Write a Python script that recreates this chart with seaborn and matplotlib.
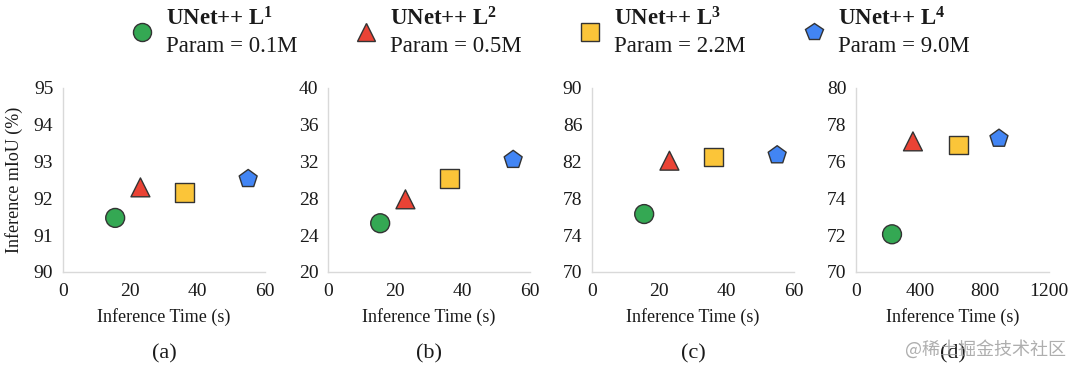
import matplotlib
matplotlib.use("Agg")
import matplotlib.pyplot as plt
from matplotlib.lines import Line2D
import pandas as pd
import seaborn as sns

# ---- data ----
models = ["L1", "L2", "L3", "L4"]
sup = ["1", "2", "3", "4"]
params = ["0.1M", "0.5M", "2.2M", "9.0M"]
panel_labels = ["(a)", "(b)", "(c)", "(d)"]

time_a = [15.5, 23.0, 36.0, 55.0]
miou_a = [91.47, 92.30, 92.17, 92.53]
time_b = [15.5, 23.0, 36.0, 55.0]
miou_b = [25.3, 27.9, 30.2, 32.2]
time_c = [15.5, 23.0, 36.0, 55.0]
miou_c = [76.3, 82.1, 82.5, 82.7]
time_d = [224, 354, 640, 889]
miou_d = [72.05, 77.10, 76.90, 77.25]

xticks_ab = [0, 20, 40, 60]
xticks_d = [0, 400, 800, 1200]
yticks_a = [90, 91, 92, 93, 94, 95]
yticks_b = [20, 24, 28, 32, 36, 40]
yticks_c = [70, 74, 78, 82, 86, 90]
yticks_d = [70, 72, 74, 76, 78, 80]

# ---- style ----
sns.set_theme(style="white")
plt.rcParams["font.family"] = ["Liberation Serif", "DejaVu Serif"]
plt.rcParams["mathtext.fontset"] = "custom"
plt.rcParams["mathtext.rm"] = "Liberation Serif"
plt.rcParams["mathtext.bf"] = "Liberation Serif:bold"
plt.rcParams["mathtext.it"] = "Liberation Serif:italic"

palette = {"L1": "#34A853", "L2": "#EA4335", "L3": "#FBC539", "L4": "#4285F4"}
markers = {"L1": "o", "L2": "^", "L3": "s", "L4": "p"}
edge = "#333333"
spine_c = "#d9d9d9"
text_c = "#1a1a1a"

fig = plt.figure(figsize=(10.8, 3.76), dpi=100)
W, H = 1080, 376

def rect(left, right):
    return [left / W, 1 - 272 / H, (right - left) / W, 184 / H]

panels = [
    (rect(63, 265), time_a, miou_a, xticks_ab, yticks_a),
    (rect(328, 530), time_b, miou_b, xticks_ab, yticks_b),
    (rect(592, 794), time_c, miou_c, xticks_ab, yticks_c),
    (rect(856, 1049), time_d, miou_d, xticks_d, yticks_d),
]

for i, (r, tx, my, xt, yt) in enumerate(panels):
    ax = fig.add_axes(r)
    df = pd.DataFrame({"model": models, "time": tx, "miou": my})
    sns.scatterplot(data=df, x="time", y="miou", hue="model", style="model",
                    palette=palette, markers=markers, s=185,
                    edgecolor=edge, linewidth=1.0, legend=False, ax=ax,
                    zorder=3, clip_on=False)
    ax.set_xlim(xt[0], xt[-1])
    ax.set_ylim(yt[0], yt[-1])
    ax.set_xticks(xt)
    ax.set_yticks(yt)
    for s in ["top", "right"]:
        ax.spines[s].set_visible(False)
    for s in ["left", "bottom"]:
        ax.spines[s].set_color(spine_c)
        ax.spines[s].set_linewidth(1.0)
    ax.tick_params(axis="x", direction="inout", length=6, width=1,
                   color=spine_c, labelsize=14, labelcolor=text_c, pad=5)
    ax.tick_params(axis="y", length=0, labelsize=14, labelcolor=text_c, pad=7)
    ax.set_xlabel("Inference Time (s)", fontsize=13, color=text_c, labelpad=6)
    if i == 0:
        ax.set_ylabel("Inference mIoU (%)", fontsize=13, color=text_c, labelpad=8)
    else:
        ax.set_ylabel("")
    cx = (r[0] + r[2] / 2)
    fig.text(cx, 1 - 354 / H, panel_labels[i], ha="center", va="center",
             fontsize=16, color=text_c)

# ---- legend ----
handles = [Line2D([], [], linestyle="none", marker=markers[m], markersize=13,
                  markerfacecolor=palette[m], markeredgecolor=edge,
                  markeredgewidth=1.0) for m in models]
labels = [r"$\mathbf{UNet{+}{+}\ L^{" + s + r"}}$" + "\nParam = " + p
          for s, p in zip(sup, params)]
leg = fig.legend(handles, labels, ncol=4, loc="center",
                 bbox_to_anchor=(0.508, 1 - 32 / H), frameon=False,
                 fontsize=16.5, handletextpad=0.45, columnspacing=2.38,
                 handlelength=1.2)
for t in leg.get_texts():
    t.set_linespacing(1.35)
    t.set_color(text_c)

# watermark
fig.text(1066 / W, 1 - 349 / H, "@稀土掘金技术社区", ha="right", va="center",
         fontsize=13, color="#9a9a9a", alpha=0.8,
         family=["Noto Sans CJK SC", "DejaVu Sans"])

fig.savefig("out.png", dpi=100)
